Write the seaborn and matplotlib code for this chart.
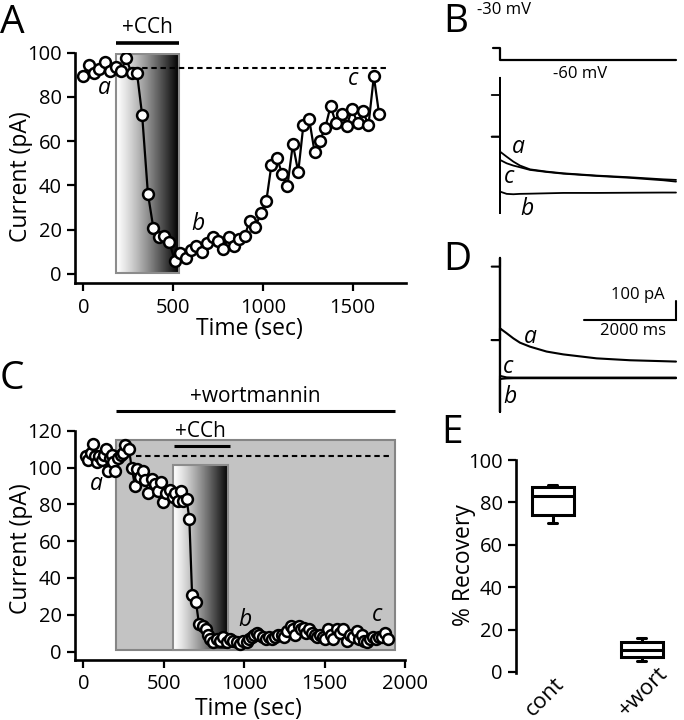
import numpy as np
import pandas as pd
import matplotlib
matplotlib.use("Agg")
import matplotlib.pyplot as plt
import seaborn as sns
from matplotlib.patches import Rectangle

# ---------------- data ----------------
# Panel A: current vs time (control)
a_time = [0, 30, 59, 89, 120, 150, 180, 210, 239, 269, 299, 328, 360, 390, 419, 449,
          479, 510, 540, 570, 599, 629, 659, 688, 720, 750, 779, 809, 839, 868, 898,
          928, 959, 989, 1019, 1048, 1078, 1108, 1137, 1167, 1197, 1226, 1258, 1288,
          1317, 1347, 1377, 1406, 1438, 1467, 1497, 1527, 1557, 1588, 1618, 1647]
a_current = [89.5, 94.4, 90.7, 92.6, 95.8, 91.7, 93.7, 91.7, 97.4, 90.7, 91.0, 71.7,
             36.3, 20.9, 16.6, 17.3, 14.3, 6.0, 9.3, 7.1, 10.8, 12.8, 9.8, 13.9, 16.7,
             15.1, 11.1, 16.7, 12.7, 15.7, 17.2, 24.1, 21.1, 27.7, 32.8, 49.4, 52.3,
             45.2, 39.9, 58.6, 46.1, 67.5, 69.9, 55.1, 60.1, 66.0, 75.8, 68.4, 72.3,
             66.9, 74.7, 68.1, 73.5, 67.3, 89.3, 72.3]
a_baseline = 93
a_cch_on, a_cch_off = 185, 532

# Panel C: current vs time (wortmannin)
c_time = [15, 30, 45, 62, 75, 87, 100, 115, 130, 141, 155, 165, 178, 187, 197, 215,
          232, 248, 259, 284, 300, 321, 332, 352, 373, 383, 404, 429, 446, 462, 483,
          497, 512, 539, 560, 570, 591, 607, 622, 642, 659, 676, 700, 719, 746, 761,
          777, 788, 808, 829, 850, 870, 891, 912, 933, 953, 974, 995, 1015, 1032,
          1050, 1061, 1077, 1095, 1115, 1135, 1155, 1171, 1190, 1210, 1233, 1250,
          1267, 1292, 1305, 1318, 1338, 1355, 1369, 1385, 1400, 1420, 1440, 1455,
          1471, 1490, 1502, 1523, 1540, 1554, 1575, 1595, 1616, 1637, 1655, 1675,
          1699, 1715, 1730, 1745, 1761, 1780, 1800, 1820, 1840, 1855, 1875, 1896]
c_current = [106, 104, 108, 113, 106, 103, 106, 104, 107, 110, 98, 105, 107, 103, 98,
             105, 107, 108, 112, 110, 100, 90, 99, 95, 98, 93, 86, 94, 91, 87, 92, 81,
             86, 88, 84, 86, 82, 87, 82, 83, 72, 31, 27, 15, 14, 12, 9, 7, 5, 7, 6, 8,
             5, 7, 6, 5, 4, 6, 5, 7, 8, 9, 10, 9, 8, 7, 8, 7, 8, 9, 9, 8, 11, 14, 12,
             9, 14, 12, 13, 10, 12, 10, 9, 8, 9, 8, 7, 12, 9, 7, 12, 10, 12, 6, 9, 8,
             11, 7, 9, 6, 5, 7, 8, 7, 8, 8, 10, 7]
c_baseline = 106
c_cch_on, c_cch_off = 555, 901
c_wort_on, c_wort_off = 205, 1937

# Panels B / D: current traces (ms, pA) and voltage protocol
trace_t = [-180, 0, 0, 0, 0, 145, 290, 435, 652, 1014, 1377, 2101, 2826, 3551, 3826]
b_trace_a = [298, 298, 610, -106, 219, 192, 166, 145, 125, 113, 104, 92, 83, 72, 69]
b_trace_c = [298, 298, 610, -106, 175, 157, 145, 136, 122, 111, 102, 90, 80, 67, 60]
b_trace_b = [519, 519, 610, -106, 7, -5, -7, -5, -4, -2, 0, 0, 1, 2, 2]
d_trace_a = [201, 201, 636, -180, 263, 237, 210, 187, 166, 140, 125, 104, 94, 89, 87]
d_trace_c = [201, 201, 636, -180, 11, 3, 2, 2, 2, 2, 2, 2, 2, 2, 2]
d_trace_b = [590, 590, 636, -180, -5, -2, -1, -1, -1, -1, -1, -1, -1, -1, -1]
volt_t = [-150, 0, 0, 3826]
volt_mv = [-30, -30, -60, -60]
scale_ms = 2000
scale_pa = 100

# Panel E: % recovery
e_order = ["cont", "+wort"]
e_groups = ["cont"] * 5 + ["+wort"] * 5
e_values = [70.4, 74.0, 83.1, 87.3, 88.3, 5.0, 6.9, 10.5, 14.1, 16.0]

# ---------------- style ----------------
sns.set_theme(style="ticks")
plt.rcParams["font.family"] = ["Open Sans", "DejaVu Sans"]
plt.rcParams["axes.linewidth"] = 1.9
for k in ("text.color", "axes.labelcolor", "xtick.color", "ytick.color",
          "axes.edgecolor"):
    plt.rcParams[k] = "black"
FS_TICK = 14.5
FS_LAB = 16.5
FS_ANN = 15
FS2 = 12

W, H = 684, 720
fig = plt.figure(figsize=(W / 100, H / 100), dpi=100)


def fx(px):
    return px / W


def fy(py):
    return 1 - py / H


def add_ax(x0, y0, x1, y1):
    return fig.add_axes([fx(x0), fy(y1), (x1 - x0) / W, (y1 - y0) / H])


def style_ax(ax):
    sns.despine(ax=ax)
    ax.tick_params(direction="out", length=6, width=1.6, color="black",
                   labelsize=FS_TICK, labelcolor="black")
    ax.tick_params(axis="x", pad=4.5)
    ax.tick_params(axis="y", pad=3.5)
    for s in ax.spines.values():
        s.set_color("black")
    ax.set_facecolor("none")


def place_ylabel(ax, text, x0, y0, y1, cx, cy):
    ax.set_ylabel(text, fontsize=FS_LAB, va="center", ha="center")
    ax.yaxis.set_label_coords(-(x0 - cx) / (ax.get_position().width * W),
                              (y1 - cy) / (y1 - y0))


def place_xlabel(ax, text, x0, x1, y1, cx, base, h):
    ax.set_xlabel(text, fontsize=FS_LAB, va="baseline", ha="center")
    ax.xaxis.set_label_coords((cx - x0) / (x1 - x0), (y1 - base) / h)


grad = np.linspace(0, 1, 256).reshape(1, -1) ** 1.2


def gradient_box(ax, x0, x1, y0, y1, z=1):
    ax.imshow(grad, cmap="gray_r", extent=(x0, x1, y0, y1), aspect="auto",
              zorder=z, vmin=0, vmax=1)
    ax.add_patch(Rectangle((x0, y0), x1 - x0, y1 - y0, fill=False,
                           edgecolor="#8c8c8c", lw=1.5, zorder=z + 0.1))


line_kws = dict(color="black", lw=1.6, marker="o", markersize=7.8,
                markerfacecolor="white", markeredgecolor="black",
                markeredgewidth=1.8, estimator=None, sort=False, zorder=5)

# ---------------- Panel A ----------------
axA = add_ax(75, 52.7, 406, 283)
style_ax(axA)
axA.set_xlim(-46, 1797)
axA.set_ylim(-4.1, 100)
gradient_box(axA, a_cch_on, a_cch_off, 0.6, 99.4)
axA.plot([278, 1697], [a_baseline, a_baseline], color="black", lw=1.5,
         dashes=(2.6, 1.8), zorder=3)
sns.lineplot(x=a_time, y=a_current, ax=axA, **line_kws)
axA.plot([a_cch_on, a_cch_off], [104.3, 104.3], color="black", lw=2.6,
         clip_on=False, solid_capstyle="butt")
axA.text((a_cch_on + a_cch_off) / 2, 106.5, "+CCh", ha="center", va="bottom",
         fontsize=FS_ANN)
axA.set_xticks([0, 500, 1000, 1500])
axA.set_yticks([0, 20, 40, 60, 80, 100])
place_xlabel(axA, "Time (sec)", 75, 406, 283, 249, 335.5, 230.3)
place_ylabel(axA, "Current (pA)", 75, 52.7, 283, 21, 176.5)
axA.text(120, 84, "a", style="italic", fontsize=FS_LAB, ha="center", va="center")
axA.text(640, 22.5, "b", style="italic", fontsize=FS_LAB, ha="center", va="center")
axA.text(1503, 88, "c", style="italic", fontsize=FS_LAB, ha="center", va="center")

# ---------------- Panel C ----------------
axC = add_ax(75, 430.7, 405, 659.5)
style_ax(axC)
axC.set_xlim(-52, 2000)
axC.set_ylim(-4.3, 120)
axC.add_patch(Rectangle((c_wort_on, 0.9), c_wort_off - c_wort_on, 114,
                        facecolor="#c3c3c3", edgecolor="#858585", lw=1.5, zorder=0.5))
gradient_box(axC, c_cch_on, c_cch_off, 1.0, 101.4)
axC.plot([330, 1920], [c_baseline, c_baseline], color="black", lw=1.5,
         dashes=(2.6, 1.8), zorder=3)
sns.lineplot(x=c_time, y=c_current, ax=axC, **line_kws)
axC.plot([c_cch_on + 8, c_cch_off + 10], [111.9, 111.9], color="black", lw=2.2,
         clip_on=False, solid_capstyle="butt")
axC.text((c_cch_on + c_cch_off) / 2, 113.8, "+CCh", ha="center", va="bottom",
         fontsize=FS_ANN)
axC.plot([c_wort_on, c_wort_off], [130.5, 130.5], color="black", lw=2.2,
         clip_on=False, solid_capstyle="butt")
axC.text((c_wort_on + c_wort_off) / 2, 133, "+wortmannin", ha="center",
         va="bottom", fontsize=FS_ANN)
axC.set_xticks([0, 500, 1000, 1500, 2000])
axC.set_yticks([0, 20, 40, 60, 80, 100, 120])
place_xlabel(axC, "Time (sec)", 75, 405, 659.5, 248.5, 715, 228.8)
place_ylabel(axC, "Current (pA)", 75, 430.7, 659.5, 21, 548.5)
axC.text(83, 91, "a", style="italic", fontsize=FS_LAB, ha="center", va="center")
axC.text(1005, 17.2, "b", style="italic", fontsize=FS_LAB, ha="center", va="center")
axC.text(1828, 20, "c", style="italic", fontsize=FS_LAB, ha="center", va="center")

# ---------------- Panels B / D ----------------
XL = (-652, 4000)
axV = add_ax(470, 40, 684, 66)
axV.set_xlim(*XL)
axV.set_ylim(-75, -10)
axV.axis("off")
sns.lineplot(x=volt_t, y=volt_mv, ax=axV, color="black", lw=1.6,
             estimator=None, sort=False)

axB = add_ax(470, 75, 684, 215)
axB.set_xlim(*XL)
axB.set_ylim(-117, 625)
axB.axis("off")
for tr in (b_trace_b, b_trace_c, b_trace_a):
    sns.lineplot(x=trace_t, y=tr, ax=axB, color="black", lw=1.3,
                 estimator=None, sort=False)

axD = add_ax(470, 250, 684, 415)
axD.set_xlim(*XL)
axD.set_ylim(-196, 678)
axD.axis("off")
for tr in (d_trace_b, d_trace_c, d_trace_a):
    sns.lineplot(x=trace_t, y=tr, ax=axD, color="black", lw=1.5,
                 estimator=None, sort=False)
sb_x1 = trace_t[-1]
sb_y = 307
axD.plot([sb_x1 - scale_ms, sb_x1, sb_x1], [sb_y, sb_y, sb_y + scale_pa],
         color="black", lw=1.5, solid_joinstyle="miter")

fig.text(fx(477), fy(10), "-30 mV", ha="left", va="center", fontsize=FS2)
fig.text(fx(580), fy(74), "-60 mV", ha="center", va="center", fontsize=FS2)
fig.text(fx(665), fy(295), "100 pA", ha="right", va="center", fontsize=FS2)
fig.text(fx(633), fy(331), "2000 ms", ha="center", va="center", fontsize=FS2)
for (px, py, s) in [(518, 147, "a"), (509, 177, "c"), (527, 209, "b"),
                    (530, 337, "a"), (508, 367, "c"), (510, 397, "b")]:
    fig.text(fx(px), fy(py), s, style="italic", fontsize=FS_LAB, ha="center",
             va="center")

# ---------------- Panel E ----------------
axE = add_ax(516, 460, 679, 673)
sns.boxplot(x=e_groups, y=e_values, ax=axE, order=e_order,
            whis=(0, 100), width=0.47, color="white", saturation=1,
            linecolor="black", linewidth=2.2, capwidths=0.1)
style_ax(axE)
axE.spines["bottom"].set_visible(False)
axE.tick_params(axis="x", length=0)
axE.set_xticklabels([])
axE.set_xlim(-0.416, 1.42)
axE.set_ylim(-0.5, 100)
axE.set_yticks([0, 20, 40, 60, 80, 100])
axE.set_xlabel("")
place_ylabel(axE, "% Recovery", 516, 460, 673, 464, 565.5)
for (cx, label) in zip([545, 643], e_order):
    fig.text(fx(cx), fy(721), label, rotation=45, ha="center", va="bottom",
             fontsize=16)

# ---------------- panel letters ----------------
for (px, py, s) in [(0, 4, "A"), (443, 3, "B"), (0, 360, "C"), (443, 241, "D"),
                    (441, 414, "E")]:
    fig.text(fx(px), fy(py), s, ha="left", va="top", fontsize=28)

fig.savefig("out.png", dpi=100)
